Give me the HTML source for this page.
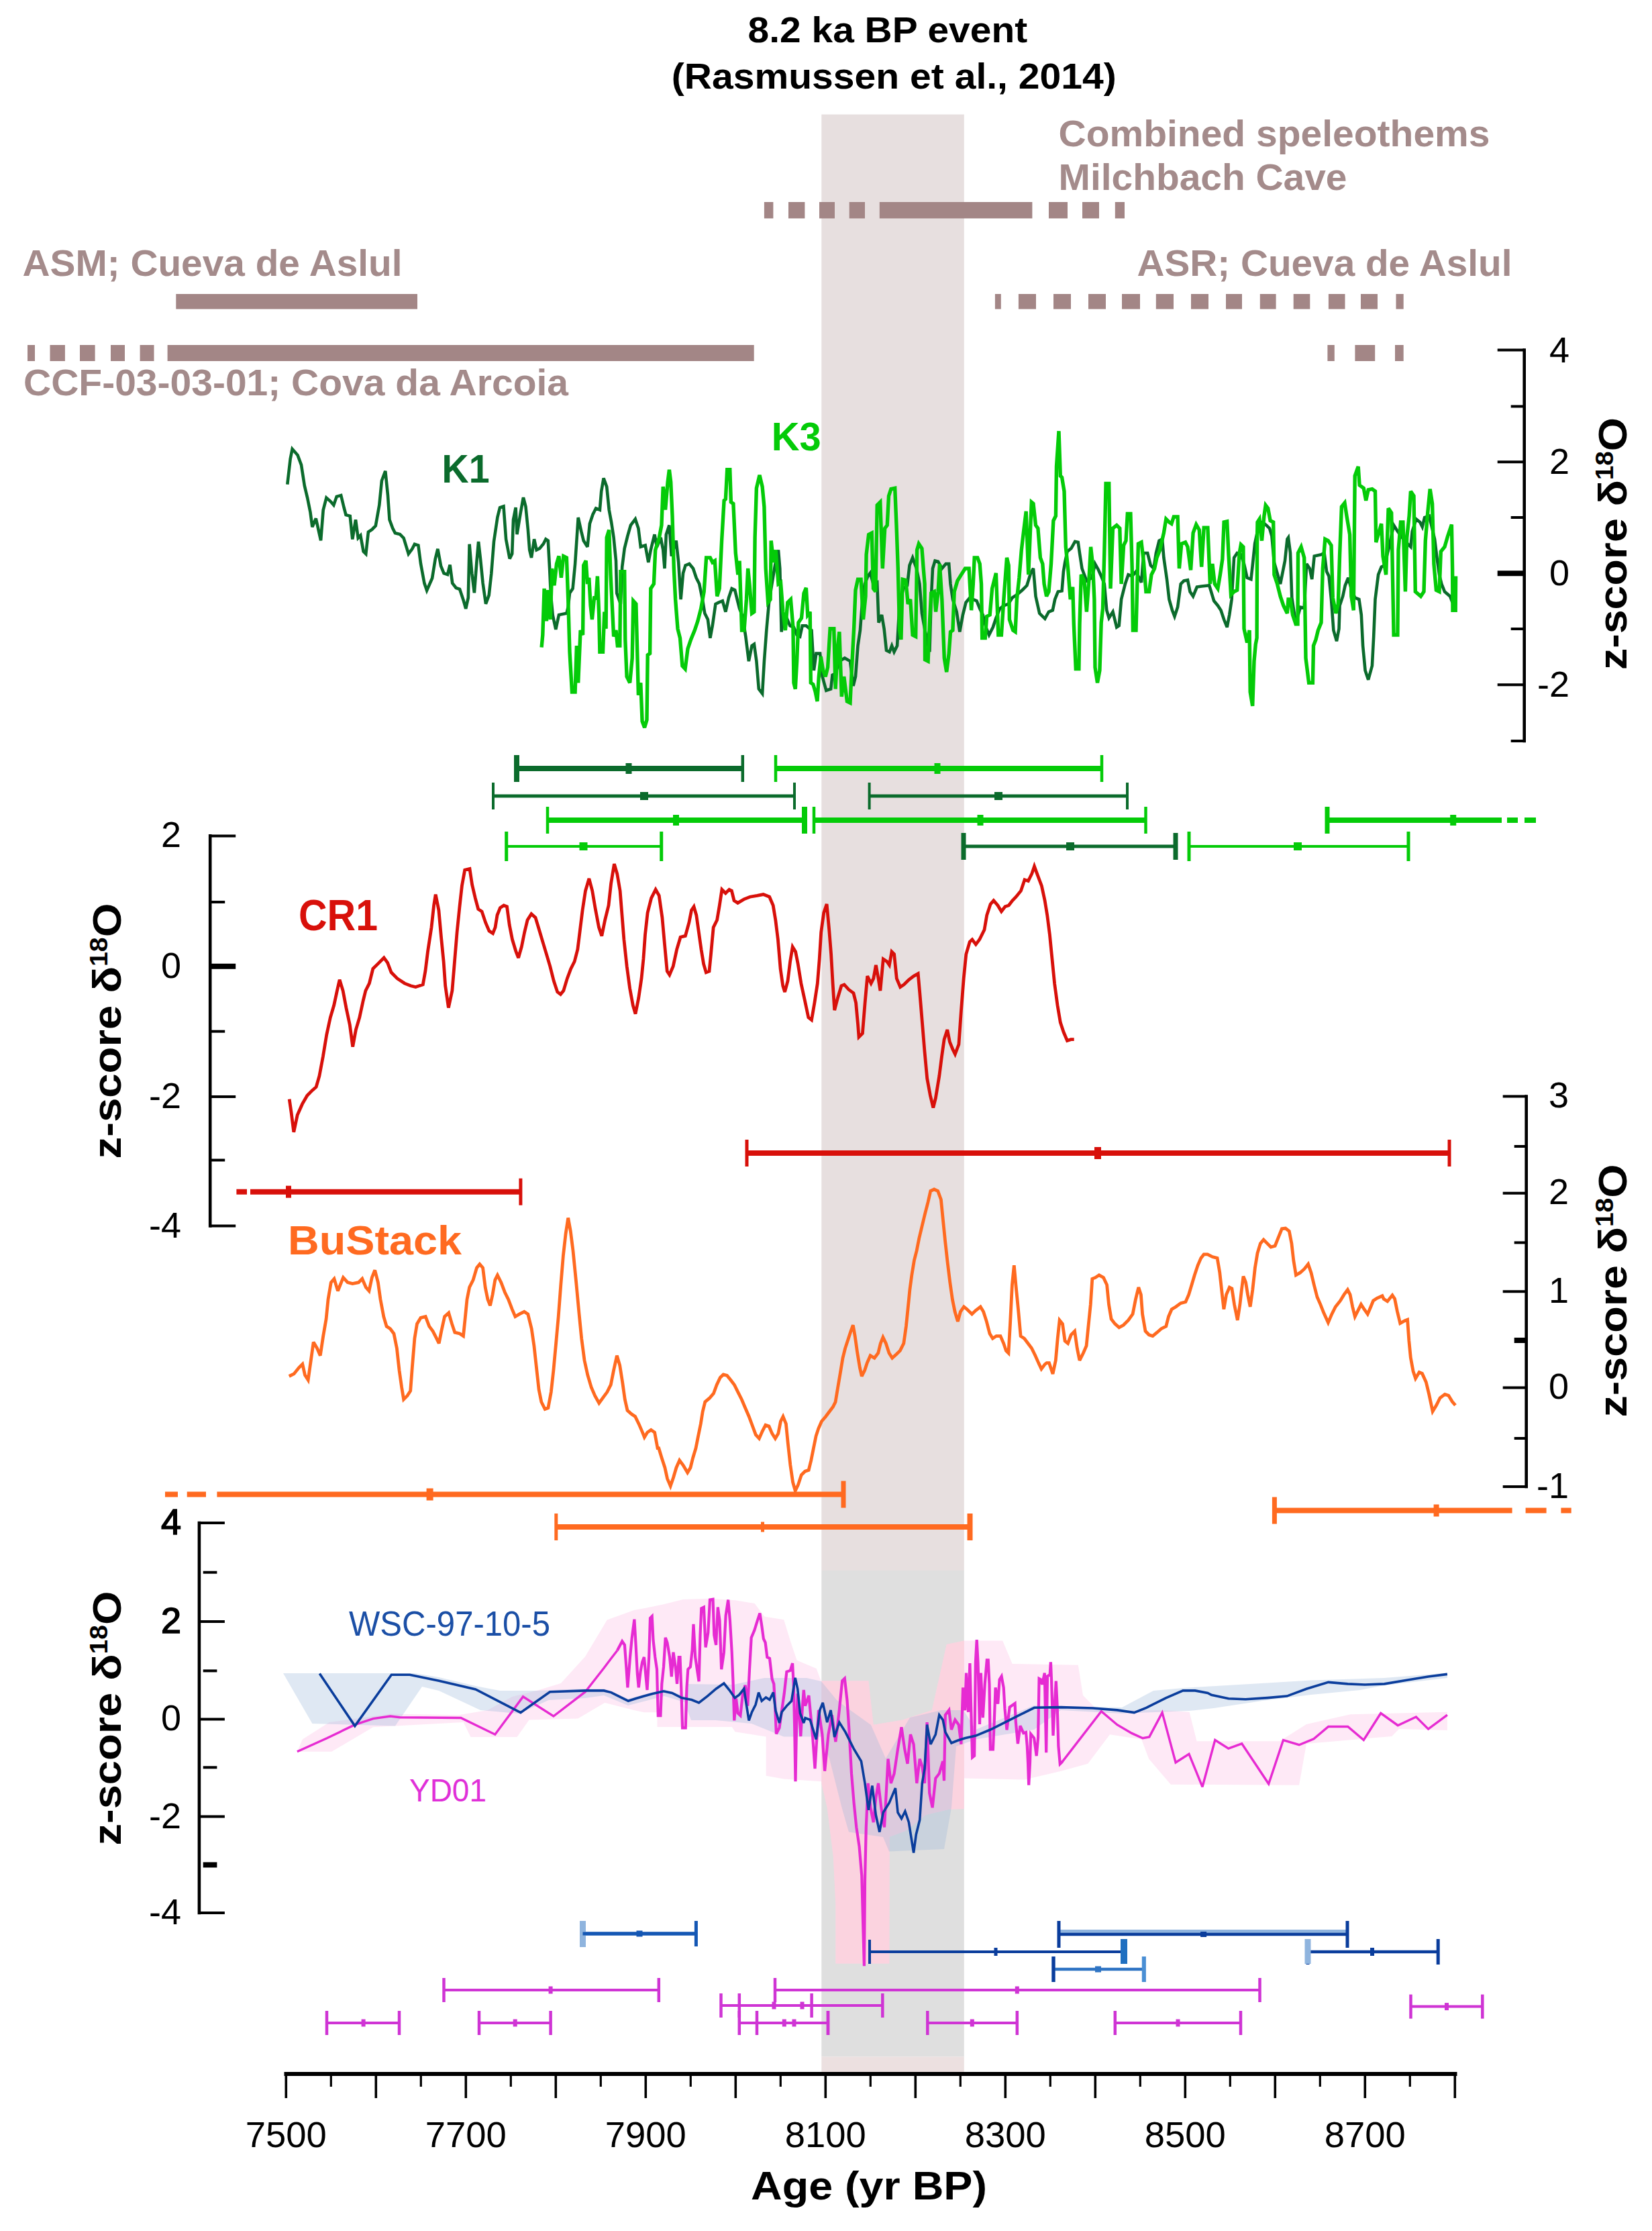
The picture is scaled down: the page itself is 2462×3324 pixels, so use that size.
<!DOCTYPE html>
<html><head><meta charset="utf-8"><title>8.2 ka BP event</title>
<style>html,body{margin:0;padding:0;background:#fff}svg{display:block}</style></head>
<body>
<svg width="2462" height="3324" viewBox="0 0 2462 3324">
<rect width="2462" height="3324" fill="#fff"/>
<rect x="1224.3" y="170.5" width="212.5" height="2169.5" fill="#e7dfdf"/>
<rect x="1224.3" y="2340" width="212.5" height="724.4" fill="#dfdfdf"/>
<rect x="1224.3" y="3064.4" width="212.5" height="23.6" fill="#ece0e0"/>
<text x="1114.6" y="63.0" font-size="54.0" fill="#000" font-family="Liberation Sans, Arial, sans-serif" font-weight="bold" text-anchor="start" textLength="416.5" lengthAdjust="spacingAndGlyphs" >8.2 ka BP event</text>
<text x="1000.8" y="131.7" font-size="54.0" fill="#000" font-family="Liberation Sans, Arial, sans-serif" font-weight="bold" text-anchor="start" textLength="663.0" lengthAdjust="spacingAndGlyphs" >(Rasmussen et al., 2014)</text>
<text x="1577.5" y="217.6" font-size="55.0" fill="#a48b8b" font-family="Liberation Sans, Arial, sans-serif" font-weight="bold" text-anchor="start" textLength="643.0" lengthAdjust="spacingAndGlyphs" >Combined speleothems</text>
<text x="1577.5" y="283.0" font-size="55.0" fill="#a48b8b" font-family="Liberation Sans, Arial, sans-serif" font-weight="bold" text-anchor="start" textLength="430.0" lengthAdjust="spacingAndGlyphs" >Milchbach Cave</text>
<text x="1694.5" y="411.3" font-size="55.0" fill="#a48b8b" font-family="Liberation Sans, Arial, sans-serif" font-weight="bold" text-anchor="start" textLength="559.0" lengthAdjust="spacingAndGlyphs" >ASR; Cueva de Aslul</text>
<text x="33.5" y="411.3" font-size="55.0" fill="#a48b8b" font-family="Liberation Sans, Arial, sans-serif" font-weight="bold" text-anchor="start" textLength="566.0" lengthAdjust="spacingAndGlyphs" >ASM; Cueva de Aslul</text>
<text x="35.0" y="588.7" font-size="55.0" fill="#a48b8b" font-family="Liberation Sans, Arial, sans-serif" font-weight="bold" text-anchor="start" textLength="812.0" lengthAdjust="spacingAndGlyphs" >CCF-03-03-01; Cova da Arcoia</text>
<rect x="1138.9" y="301.0" width="13.5" height="24.4" fill="#a38686"/>
<rect x="1175.0" y="301.0" width="24.4" height="24.4" fill="#a38686"/>
<rect x="1221.0" y="301.0" width="23.0" height="24.4" fill="#a38686"/>
<rect x="1265.7" y="301.0" width="23.3" height="24.4" fill="#a38686"/>
<rect x="1310.8" y="301.0" width="227.6" height="24.4" fill="#a38686"/>
<rect x="1563.0" y="301.0" width="28.0" height="24.4" fill="#a38686"/>
<rect x="1613.0" y="301.0" width="25.0" height="24.4" fill="#a38686"/>
<rect x="1661.8" y="301.0" width="14.2" height="24.4" fill="#a38686"/>
<rect x="262.3" y="438.0" width="359.7" height="22.5" fill="#a38686"/>
<rect x="1482.9" y="438.0" width="8.9" height="22.5" fill="#a38686"/>
<rect x="1517.9" y="438.0" width="26.1" height="22.5" fill="#a38686"/>
<rect x="1570.0" y="438.0" width="26.0" height="22.5" fill="#a38686"/>
<rect x="1622.0" y="438.0" width="26.0" height="22.5" fill="#a38686"/>
<rect x="1672.0" y="438.0" width="27.0" height="22.5" fill="#a38686"/>
<rect x="1722.8" y="438.0" width="26.2" height="22.5" fill="#a38686"/>
<rect x="1775.0" y="438.0" width="26.0" height="22.5" fill="#a38686"/>
<rect x="1827.0" y="438.0" width="24.0" height="22.5" fill="#a38686"/>
<rect x="1877.8" y="438.0" width="23.8" height="22.5" fill="#a38686"/>
<rect x="1927.7" y="438.0" width="24.6" height="22.5" fill="#a38686"/>
<rect x="1979.9" y="438.0" width="24.6" height="22.5" fill="#a38686"/>
<rect x="2028.0" y="438.0" width="25.0" height="22.5" fill="#a38686"/>
<rect x="2080.5" y="438.0" width="11.2" height="22.5" fill="#a38686"/>
<rect x="41.0" y="514.0" width="11.0" height="24.0" fill="#a38686"/>
<rect x="74.5" y="514.0" width="22.4" height="24.0" fill="#a38686"/>
<rect x="119.0" y="514.0" width="22.6" height="24.0" fill="#a38686"/>
<rect x="165.0" y="514.0" width="21.0" height="24.0" fill="#a38686"/>
<rect x="208.6" y="514.0" width="20.9" height="24.0" fill="#a38686"/>
<rect x="249.6" y="514.0" width="874.1" height="24.0" fill="#a38686"/>
<rect x="1978.4" y="514.0" width="10.4" height="24.0" fill="#a38686"/>
<rect x="2019.4" y="514.0" width="29.8" height="24.0" fill="#a38686"/>
<rect x="2079.0" y="514.0" width="12.7" height="24.0" fill="#a38686"/>
<polygon points="450.8,2591.5 490.8,2566.1 581.6,2553.4 683.3,2555.2 726.9,2547.9 763.2,2527.9 799.5,2518.9 835.8,2508.0 872.2,2468.0 904.8,2413.5 944.8,2399.0 960.0,2396.3 989.1,2390.3 1018.1,2383.0 1056.9,2381.8 1095.6,2384.2 1124.6,2389.1 1139.2,2408.4 1168.2,2413.3 1177.9,2444.7 1187.6,2473.8 1216.7,2485.9 1223.9,2505.3 1224.3,2504.3 1294.4,2504.3 1301.7,2569.7 1345.3,2562.4 1356.2,2558.8 1388.9,2547.9 1410.7,2449.9 1436.8,2444.4 1494.2,2444.4 1508.7,2478.9 1606.8,2480.7 1614.0,2526.1 1635.8,2547.9 1730.3,2547.9 1772.6,2550.7 1783.5,2594.3 1907.0,2594.3 1947.0,2568.9 2012.4,2554.3 2156.9,2550.7 2156.9,2577.9 2085.0,2576.1 2074.1,2587.0 1947.0,2597.9 1936.1,2659.7 1744.8,2658.7 1712.1,2620.6 1701.2,2591.5 1654.0,2584.2 1621.3,2627.8 1581.4,2638.7 1526.9,2651.4 1436.8,2649.6 1436.8,2695.0 1413.9,2696.1 1380.1,2704.1 1349.6,2728.1 1325.7,2736.8 1325.3,2925.6 1245.4,2925.6 1245.4,2838.5 1241.8,2765.8 1232.7,2693.2 1224.3,2656.9 1223.9,2654.2 1168.2,2650.6 1141.6,2645.7 1141.6,2587.6 1095.6,2580.3 1090.8,2573.1 979.4,2573.1 979.4,2551.3 960.0,2551.3 944.8,2547.9 901.2,2537.0 861.3,2560.6 788.6,2562.4 770.5,2587.9 701.5,2587.9 690.6,2566.1 588.9,2571.5 556.2,2573.3 494.4,2609.7 442.9,2609.7" fill="#fdd7ee" fill-opacity="0.55"/>
<clipPath id="bandclip"><rect x="1224.3" y="2340" width="212.5" height="730"/></clipPath>
<polygon points="450.8,2591.5 490.8,2566.1 581.6,2553.4 683.3,2555.2 726.9,2547.9 763.2,2527.9 799.5,2518.9 835.8,2508.0 872.2,2468.0 904.8,2413.5 944.8,2399.0 960.0,2396.3 989.1,2390.3 1018.1,2383.0 1056.9,2381.8 1095.6,2384.2 1124.6,2389.1 1139.2,2408.4 1168.2,2413.3 1177.9,2444.7 1187.6,2473.8 1216.7,2485.9 1223.9,2505.3 1224.3,2504.3 1294.4,2504.3 1301.7,2569.7 1345.3,2562.4 1356.2,2558.8 1388.9,2547.9 1410.7,2449.9 1436.8,2444.4 1494.2,2444.4 1508.7,2478.9 1606.8,2480.7 1614.0,2526.1 1635.8,2547.9 1730.3,2547.9 1772.6,2550.7 1783.5,2594.3 1907.0,2594.3 1947.0,2568.9 2012.4,2554.3 2156.9,2550.7 2156.9,2577.9 2085.0,2576.1 2074.1,2587.0 1947.0,2597.9 1936.1,2659.7 1744.8,2658.7 1712.1,2620.6 1701.2,2591.5 1654.0,2584.2 1621.3,2627.8 1581.4,2638.7 1526.9,2651.4 1436.8,2649.6 1436.8,2695.0 1413.9,2696.1 1380.1,2704.1 1349.6,2728.1 1325.7,2736.8 1325.3,2925.6 1245.4,2925.6 1245.4,2838.5 1241.8,2765.8 1232.7,2693.2 1224.3,2656.9 1223.9,2654.2 1168.2,2650.6 1141.6,2645.7 1141.6,2587.6 1095.6,2580.3 1090.8,2573.1 979.4,2573.1 979.4,2551.3 960.0,2551.3 944.8,2547.9 901.2,2537.0 861.3,2560.6 788.6,2562.4 770.5,2587.9 701.5,2587.9 690.6,2566.1 588.9,2571.5 556.2,2573.3 494.4,2609.7 442.9,2609.7" fill="#ffd0dc" fill-opacity="0.75" clip-path="url(#bandclip)"/>
<polygon points="422.0,2493.0 618.0,2493.0 654.0,2499.0 709.0,2512.0 745.0,2519.0 800.0,2519.0 872.0,2516.0 900.0,2516.0 936.0,2531.0 990.0,2517.0 1020.0,2527.0 1023.0,2509.0 1093.0,2510.0 1139.0,2500.0 1202.0,2500.0 1224.0,2505.0 1247.0,2533.0 1263.0,2545.0 1298.0,2570.0 1320.0,2620.0 1356.0,2559.0 1403.0,2548.0 1436.0,2548.0 1454.0,2577.0 1541.0,2541.0 1672.0,2544.0 1719.0,2519.0 1763.0,2515.0 1863.0,2509.0 1954.0,2503.5 2063.0,2500.0 2157.0,2492.6 2157.0,2500.0 2063.0,2511.0 2027.0,2518.0 1954.0,2525.0 1881.6,2534.0 1809.0,2545.0 1772.6,2549.0 1708.5,2551.5 1672.0,2553.0 1581.0,2548.0 1541.0,2577.0 1454.0,2591.5 1425.0,2602.0 1418.0,2693.0 1407.0,2755.0 1325.0,2758.6 1316.0,2737.0 1265.0,2729.5 1254.5,2693.0 1236.0,2620.0 1224.0,2587.6 1168.0,2587.6 1120.0,2568.0 1066.5,2563.0 1030.0,2563.0 1020.0,2536.0 990.0,2527.0 936.0,2541.0 900.0,2526.0 872.0,2530.0 817.7,2533.0 774.0,2553.0 716.0,2548.0 654.0,2519.0 629.0,2513.0 589.0,2571.5 465.4,2568.0 422.0,2493.0" fill="#9db9dc" fill-opacity="0.33"/>
<polyline points="428.3,721.7 432.7,683.5 435.6,669.0 443.6,678.1 449.0,692.6 453.8,723.5 458.1,741.6 462.5,763.4 465.4,785.2 470.8,772.5 478.1,805.2 481.7,759.8 486.4,741.6 492.6,747.1 497.3,752.5 501.7,739.8 508.2,738.0 512.6,756.2 515.5,767.1 521.7,768.9 525.3,803.4 530.0,774.3 533.7,801.6 537.3,797.9 541.6,821.6 545.3,825.2 548.9,792.5 554.4,788.9 559.8,783.4 565.3,752.5 568.9,716.2 574.3,701.7 578.0,738.0 580.5,774.3 585.2,787.0 588.9,794.3 596.1,796.1 601.6,801.6 608.8,825.2 614.3,817.9 617.9,810.7 623.4,812.5 627.0,839.7 632.4,868.8 636.1,879.7 644.1,861.5 648.8,832.4 652.4,817.9 657.1,843.3 661.5,854.2 667.0,856.1 670.6,841.5 674.2,868.8 679.7,876.0 685.1,877.8 690.6,894.2 694.2,906.9 697.8,890.6 699.6,810.7 703.3,854.2 706.9,883.3 710.5,836.1 713.1,807.0 716.0,832.4 719.6,868.8 724.0,899.6 728.7,886.9 732.3,854.2 736.0,807.0 741.4,770.7 745.0,756.2 750.5,754.4 754.1,803.4 759.6,832.4 763.2,825.2 765.0,774.3 768.6,756.2 770.5,796.1 775.9,763.4 779.5,743.5 780.0,741.2 783.5,755.0 786.9,789.5 789.2,819.4 792.0,830.9 796.1,803.3 799.6,819.4 804.2,817.1 809.9,810.2 813.4,803.3 816.8,805.6 819.1,847.0 820.9,886.1 823.7,916.1 828.3,937.9 832.9,916.1 844.4,913.8 846.7,904.6 849.0,883.8 853.6,876.9 857.1,840.1 861.7,771.1 866.3,791.8 869.7,805.6 875.5,814.8 878.9,780.3 883.5,766.5 888.1,757.3 893.9,759.6 896.2,732.0 899.6,712.5 904.2,725.1 907.7,759.6 911.1,778.0 914.6,801.0 918.0,835.5 919.2,883.8 924.9,899.9 927.2,844.7 930.7,817.1 935.3,798.7 939.9,782.6 946.8,773.4 951.4,787.2 954.8,814.8 961.7,812.5 966.3,837.8 969.8,819.4 975.5,796.4 979.0,814.8 984.7,801.0 988.2,819.4 990.5,847.0 992.8,796.4 997.4,782.6 1000.8,828.6 1007.7,805.6 1011.2,837.8 1014.6,893.0 1018.1,853.9 1021.5,842.4 1027.3,840.1 1033.0,847.0 1037.6,860.8 1042.2,870.0 1046.9,893.0 1050.3,913.8 1054.9,923.0 1058.4,950.6 1061.8,932.2 1066.4,899.9 1071.0,897.6 1076.8,895.3 1081.4,911.5 1086.0,890.7 1090.6,876.9 1095.2,879.2 1098.6,893.0 1102.1,906.9 1106.7,918.4 1111.3,948.3 1115.9,985.1 1120.5,962.1 1123.9,959.8 1127.4,985.1 1130.8,1026.5 1136.1,1033.4 1138.9,985.1 1142.3,939.1 1145.8,899.9 1150.4,870.0 1155.0,842.4 1160.0,819.4 1162.3,847.0 1164.6,941.4 1168.1,916.1 1171.5,918.4 1177.3,932.2 1183.0,934.5 1187.6,946.0 1192.2,948.3 1195.7,932.2 1201.4,932.2 1209.5,939.1 1212.9,998.9 1216.4,973.6 1222.1,973.6 1225.6,1008.1 1231.3,1028.8 1238.2,1026.5 1240.5,1005.8 1245.1,1003.5 1250.9,985.1 1258.9,980.5 1267.0,985.1 1271.6,1021.9 1275.0,1008.1 1278.5,962.1 1281.9,939.1 1285.4,893.0 1288.8,870.0 1293.4,858.5 1296.9,853.9 1301.5,870.0 1307.2,867.7 1309.5,927.6 1314.1,916.1 1317.6,936.8 1321.0,969.0 1325.6,971.3 1329.1,962.1 1332.5,971.3 1337.1,962.1 1340.6,899.9 1346.3,876.9 1352.1,872.3 1355.5,842.4 1360.1,830.9 1365.9,847.0 1370.5,870.0 1373.9,913.8 1378.5,939.1 1385.4,971.3 1387.7,893.0 1390.0,847.0 1393.5,835.5 1398.1,836.7 1403.8,847.0 1409.6,840.1 1414.2,840.1 1416.5,870.0 1419.9,893.0 1425.7,911.5 1430.3,941.4 1434.9,916.1 1439.5,897.6 1445.3,890.7 1449.9,893.0 1455.6,895.3 1460.2,906.9 1464.8,916.1 1469.4,934.5 1474.0,946.0 1479.8,934.5 1484.4,920.7 1490.1,906.9 1495.9,902.2 1502.8,899.9 1508.5,890.7 1515.4,886.1 1523.5,879.2 1530.4,872.3 1536.1,853.9 1540.0,847.0 1543.5,888.4 1549.2,913.8 1557.3,921.8 1563.0,911.5 1568.8,909.2 1572.2,893.0 1576.8,881.5 1582.6,880.4 1584.9,851.6 1587.2,837.8 1590.6,821.7 1596.4,817.1 1602.1,806.8 1606.7,807.9 1609.0,824.0 1612.5,847.0 1615.9,856.2 1619.4,865.4 1627.4,860.8 1632.0,840.1 1636.6,848.2 1641.2,858.5 1645.8,870.0 1649.3,909.2 1652.7,920.7 1658.5,911.5 1664.2,934.5 1667.7,932.2 1671.1,893.0 1676.9,870.0 1681.5,856.2 1687.2,858.5 1693.0,851.6 1701.0,867.7 1704.5,824.0 1710.2,824.0 1714.8,842.4 1719.4,847.0 1722.9,824.0 1727.5,805.6 1732.1,803.3 1734.4,830.9 1739.0,863.1 1742.4,893.0 1747.0,909.2 1750.5,918.4 1755.1,904.6 1759.7,870.0 1764.3,865.4 1770.0,864.3 1773.5,881.5 1778.1,888.4 1783.8,874.6 1790.7,873.5 1802.2,872.3 1805.7,883.8 1809.2,895.3 1814.9,902.2 1819.5,909.2 1824.1,923.0 1828.7,934.5 1832.2,916.1 1835.6,893.0 1839.1,830.9 1843.7,824.0 1849.4,826.3 1854.0,840.1 1858.6,860.8 1864.4,863.1 1866.7,842.4 1870.1,810.2 1875.9,782.6 1881.6,778.0 1887.4,782.6 1892.0,787.2 1895.4,798.7 1898.9,837.8 1908.1,870.0 1915.0,835.5 1918.4,803.3 1920.0,801.0 1923.0,824.0 1925.3,890.7 1931.1,928.7 1938.0,904.6 1943.7,905.7 1947.2,840.1 1951.8,847.0 1955.2,863.1 1958.7,828.6 1969.0,826.3 1973.6,824.0 1977.1,851.6 1980.5,858.5 1984.0,893.0 1987.4,939.1 1992.0,955.2 1995.5,936.8 1996.6,902.2 2001.2,888.4 2004.7,872.3 2009.3,860.8 2015.0,881.5 2019.6,890.7 2025.4,893.0 2028.8,916.1 2031.1,962.1 2034.6,998.9 2039.2,1012.7 2044.9,992.0 2047.2,948.3 2049.5,893.0 2054.1,856.2 2058.7,844.7 2063.3,842.4 2070.2,814.8 2077.1,782.6 2082.9,791.8 2093.2,805.6 2102.4,814.8 2104.7,791.8 2110.5,773.4 2116.2,778.0 2119.7,784.9 2123.1,771.1 2130.0,768.8 2138.1,803.3 2141.5,830.9 2145.0,856.2 2148.4,870.0 2153.0,881.5 2161.1,888.4 2164.6,897.6" fill="none" stroke="#0b6b2c" stroke-width="4.6" stroke-linejoin="miter" stroke-miterlimit="3"/>
<polyline points="807.1,964.4 808.8,946.0 811.1,876.9 814.5,925.3 816.8,879.2 820.3,923.0 822.6,847.0 826.0,872.3 829.5,840.1 832.9,828.6 836.4,860.8 839.8,828.6 844.4,830.9 846.7,893.0 849.0,971.3 852.5,1031.1 857.1,1031.1 859.4,962.1 861.7,1017.3 865.1,939.1 868.6,946.0 869.7,842.4 873.2,835.5 875.5,870.0 877.8,860.8 880.1,902.2 882.4,923.0 885.8,888.4 888.1,893.0 890.4,858.5 892.7,916.1 893.9,971.3 898.5,971.3 900.8,911.5 903.1,936.8 904.2,801.0 907.7,789.5 910.0,856.2 912.3,902.2 914.6,948.3 918.0,939.1 920.3,962.1 923.8,962.1 924.9,851.6 930.7,851.6 931.8,952.9 934.1,1008.1 938.7,1017.3 942.2,980.5 943.8,895.3 947.9,899.9 951.4,1035.7 954.8,1017.3 957.1,1074.8 960.6,1084.0 964.0,1072.5 965.2,975.9 968.6,973.6 969.8,876.9 974.4,870.0 976.7,819.4 982.4,801.0 985.9,782.6 988.2,725.1 991.6,759.6 995.1,718.2 997.4,699.8 999.7,718.2 1002.0,768.8 1004.3,847.0 1006.6,893.0 1010.0,936.8 1013.5,950.6 1016.9,992.0 1021.1,996.6 1025.0,966.7 1029.6,952.9 1035.3,939.1 1039.9,925.3 1044.6,906.9 1049.2,881.5 1052.6,830.9 1058.4,830.9 1061.8,837.8 1065.3,835.5 1068.7,888.4 1072.2,876.9 1075.6,805.6 1079.1,745.8 1081.4,743.5 1083.7,699.8 1087.8,699.8 1089.4,748.1 1092.9,750.4 1096.3,824.0 1099.8,856.2 1102.1,835.5 1105.5,939.1 1109.0,939.1 1112.4,893.0 1114.7,847.0 1117.0,870.0 1120.5,913.8 1123.9,911.5 1125.1,801.0 1127.4,727.4 1132.0,707.9 1136.1,725.1 1138.9,755.0 1141.2,847.0 1144.6,897.6 1148.1,893.0 1149.2,805.6 1152.7,837.8 1156.1,819.4 1160.0,870.0 1163.5,867.7 1166.9,911.5 1170.4,939.1 1173.8,897.6 1178.4,893.0 1181.9,934.5 1183.0,1017.3 1185.3,1026.5 1187.6,985.1 1189.9,927.6 1194.5,920.7 1198.0,883.8 1201.4,875.8 1203.7,916.1 1207.2,911.5 1208.3,1017.3 1211.8,1019.6 1215.2,1031.1 1218.0,1044.9 1220.3,1008.1 1223.3,978.2 1226.7,998.9 1230.2,1008.1 1233.6,994.3 1237.1,936.8 1242.8,936.8 1245.1,1026.5 1248.6,962.1 1250.9,941.4 1254.3,1038.0 1257.8,1008.1 1262.4,1044.9 1267.0,1047.2 1269.3,998.9 1272.7,934.5 1275.0,879.2 1278.5,863.1 1283.1,863.1 1286.5,923.0 1290.0,888.4 1291.1,826.3 1294.6,796.4 1299.2,794.1 1301.5,876.9 1304.9,881.5 1307.2,752.7 1311.8,748.1 1315.3,847.0 1318.7,787.2 1322.2,782.6 1324.5,738.9 1327.9,728.6 1333.7,727.4 1336.0,782.6 1338.3,847.0 1340.6,939.1 1342.9,952.9 1345.2,863.1 1349.8,864.3 1353.2,899.9 1356.7,893.0 1360.1,946.0 1364.7,948.3 1365.9,872.3 1366.6,819.4 1369.3,810.2 1373.9,817.1 1376.2,847.0 1378.1,870.0 1378.5,982.8 1383.1,985.1 1385.4,927.6 1387.7,883.8 1392.3,881.5 1394.6,911.5 1398.1,881.5 1400.4,840.1 1403.8,893.0 1407.3,980.5 1410.7,1001.2 1414.2,973.6 1416.5,941.4 1419.9,939.1 1422.2,881.5 1426.9,865.4 1432.6,856.2 1438.4,847.0 1444.1,847.0 1447.6,909.2 1450.3,870.0 1452.2,830.9 1456.8,830.9 1460.2,840.1 1462.5,870.0 1463.7,950.6 1468.3,950.6 1470.6,918.4 1475.2,916.1 1478.6,876.9 1484.4,853.9 1487.8,946.0 1492.4,946.0 1495.9,893.0 1500.5,830.9 1503.2,842.4 1504.4,923.0 1509.7,939.1 1513.1,941.4 1515.4,893.0 1518.9,860.8 1522.3,819.4 1525.8,789.5 1529.2,761.9 1532.7,856.2 1537.3,748.1 1540.0,750.4 1543.5,782.6 1546.9,787.2 1550.4,830.9 1553.8,840.1 1556.1,870.0 1559.6,888.4 1563.0,881.5 1566.5,840.1 1569.9,775.7 1573.4,768.8 1574.5,695.2 1578.0,642.3 1580.3,709.0 1582.6,711.3 1586.0,732.0 1588.3,814.8 1591.8,849.3 1595.2,893.0 1598.7,874.6 1600.3,929.9 1603.3,996.6 1607.9,996.6 1609.0,929.9 1611.3,856.2 1615.9,865.4 1619.4,911.5 1622.8,865.4 1625.6,814.8 1628.6,842.4 1630.9,893.0 1632.0,994.3 1635.5,1017.3 1638.9,998.9 1641.2,927.6 1643.5,906.9 1645.8,824.0 1648.1,720.5 1652.7,720.5 1655.0,876.9 1658.5,787.2 1664.2,782.6 1668.8,787.2 1671.1,870.0 1674.6,812.5 1678.0,805.6 1680.3,765.4 1684.9,765.4 1687.2,847.0 1688.4,939.1 1693.0,939.1 1696.4,810.2 1701.0,807.9 1704.5,837.8 1707.9,881.5 1712.5,881.5 1716.0,856.2 1720.6,847.0 1724.0,830.9 1728.6,819.4 1734.4,794.1 1737.8,773.4 1742.4,778.0 1745.9,780.3 1749.3,770.0 1755.1,770.0 1757.4,847.0 1760.8,810.2 1766.6,807.9 1770.0,814.8 1774.6,849.3 1778.1,794.1 1782.7,781.5 1787.3,789.5 1790.7,844.7 1794.2,786.1 1799.9,786.1 1803.4,870.0 1806.9,840.1 1810.3,870.0 1814.9,876.9 1818.4,856.2 1821.8,833.2 1824.1,778.0 1828.7,776.9 1831.0,826.3 1834.5,886.1 1839.1,881.5 1843.7,879.2 1847.1,824.0 1849.4,811.4 1852.9,814.8 1854.0,936.8 1858.6,957.5 1862.1,939.1 1863.2,1031.1 1866.7,1051.8 1869.0,985.1 1871.3,959.8 1873.1,950.6 1873.6,801.0 1874.0,778.0 1877.0,773.4 1880.5,805.6 1883.9,768.8 1886.2,752.7 1889.7,757.3 1893.1,775.7 1897.7,778.0 1898.9,856.2 1903.5,870.0 1908.1,888.4 1912.7,902.2 1918.4,913.8 1920.0,893.0 1923.0,893.0 1926.5,916.1 1931.1,929.9 1934.0,929.9 1934.5,824.0 1939.1,814.8 1943.7,830.9 1946.0,980.5 1950.6,1017.3 1956.4,1017.3 1957.5,962.1 1961.0,952.9 1964.4,939.1 1969.0,927.6 1971.3,847.0 1974.8,803.3 1979.4,805.6 1984.0,812.5 1986.3,890.7 1990.9,913.8 1994.3,899.9 1996.6,826.3 1999.4,755.0 2004.0,749.3 2007.0,768.8 2011.6,796.4 2013.9,888.4 2017.3,909.2 2019.2,709.0 2024.2,695.2 2026.1,722.8 2032.3,727.4 2035.7,745.8 2039.2,729.7 2044.9,728.6 2049.5,732.0 2050.7,807.9 2058.7,780.3 2061.0,828.6 2065.6,856.2 2069.1,757.3 2073.7,764.2 2077.1,946.0 2082.9,946.0 2084.0,819.4 2087.5,778.0 2090.9,778.0 2094.4,881.5 2096.7,801.0 2100.1,768.8 2102.4,732.0 2107.0,738.9 2109.3,881.5 2117.4,888.4 2122.0,881.5 2124.3,805.6 2127.7,764.2 2131.2,728.6 2134.6,750.4 2136.9,840.1 2140.4,879.2 2145.0,881.5 2147.3,821.7 2153.0,814.8 2157.6,798.7 2163.4,781.5 2164.6,847.0 2165.0,909.2 2169.2,909.2 2169.6,858.5" fill="none" stroke="#04cb08" stroke-width="5.4" stroke-linejoin="miter" stroke-miterlimit="3"/>
<polyline points="431.2,1637.7 434.1,1657.6 437.8,1686.7 443.2,1661.3 450.5,1644.9 457.8,1632.2 465.0,1624.9 471.2,1619.5 475.9,1603.2 481.4,1574.1 486.8,1541.4 492.3,1516.0 497.7,1497.8 502.4,1476.0 506.1,1459.7 511.1,1476.0 515.9,1501.5 521.3,1526.9 525.7,1559.6 530.4,1534.1 535.8,1516.0 541.3,1490.6 544.9,1476.0 550.4,1465.1 555.8,1443.3 563.1,1436.1 572.2,1427.0 577.6,1434.3 583.1,1448.8 592.1,1457.9 603.0,1465.1 612.1,1468.8 619.4,1470.6 630.3,1467.0 633.9,1447.0 637.5,1417.9 643.0,1381.6 646.6,1348.9 649.2,1332.6 653.9,1356.2 657.5,1396.1 661.1,1432.4 663.7,1468.8 668.4,1501.5 673.9,1476.0 677.5,1432.4 681.1,1388.9 684.8,1352.5 688.4,1319.9 692.7,1296.2 700.0,1294.4 703.6,1318.1 708.3,1338.1 712.7,1354.4 718.1,1358.0 723.6,1374.4 729.0,1387.1 734.5,1390.7 738.1,1381.6 741.0,1363.5 745.4,1352.6 750.8,1349.0 755.5,1350.8 759.2,1378.0 763.5,1399.8 769.0,1418.0 772.6,1427.0 777.3,1410.7 781.7,1388.9 786.1,1370.8 791.9,1361.7 798.0,1367.1 803.5,1385.3 808.9,1403.4 814.4,1421.6 819.8,1439.8 825.3,1461.6 830.7,1477.9 835.4,1481.5 839.8,1476.1 845.3,1457.9 850.7,1443.4 856.2,1432.5 860.9,1414.3 864.5,1385.3 868.1,1356.2 872.5,1327.2 877.9,1309.0 882.7,1327.2 887.0,1352.6 892.5,1381.6 896.8,1394.4 901.6,1370.8 907.0,1349.0 910.6,1316.3 915.4,1287.2 919.7,1301.7 924.1,1327.2 927.0,1363.5 929.9,1399.8 934.2,1439.8 938.6,1472.4 943.3,1497.9 947.0,1510.6 951.7,1487.0 956.0,1457.9 958.9,1428.9 961.5,1392.5 965.1,1359.9 970.6,1338.1 977.1,1325.4 982.2,1334.4 986.9,1367.1 990.5,1407.1 994.2,1447.0 997.8,1452.5 1003.2,1439.8 1008.7,1414.3 1014.1,1396.2 1021.4,1394.4 1026.9,1374.4 1030.5,1356.2 1034.1,1350.8 1037.8,1363.5 1041.4,1388.9 1045.0,1414.3 1048.6,1436.1 1052.3,1448.8 1057.0,1447.0 1059.5,1421.6 1063.2,1381.6 1068.6,1370.8 1072.3,1349.0 1075.9,1325.4 1081.3,1330.8 1086.8,1325.4 1090.4,1327.2 1094.0,1341.7 1099.5,1345.3 1108.6,1339.9 1117.7,1336.2 1128.6,1334.4 1137.6,1332.6 1146.7,1336.2 1152.2,1349.0 1155.8,1370.8 1159.4,1399.8 1163.1,1443.4 1166.7,1468.8 1169.6,1477.9 1174.0,1461.6 1177.6,1432.5 1181.2,1410.7 1185.6,1418.0 1189.2,1436.1 1193.9,1465.2 1199.4,1490.6 1204.8,1516.0 1209.5,1519.7 1213.9,1494.2 1218.3,1465.2 1221.2,1428.9 1223.7,1388.9 1227.7,1359.9 1232.1,1347.1 1235.7,1385.3 1238.6,1421.6 1241.1,1465.2 1243.7,1505.1 1248.4,1487.0 1253.9,1468.8 1258.2,1467.0 1264.8,1474.3 1272.0,1479.7 1275.6,1494.2 1278.6,1526.9 1280.0,1545.1 1281.8,1543.3 1285.4,1539.6 1289.1,1494.2 1292.7,1454.3 1298.1,1465.2 1301.8,1457.9 1305.4,1437.9 1309.0,1457.9 1311.9,1476.1 1316.3,1428.9 1321.7,1432.5 1325.4,1437.9 1329.0,1418.0 1332.6,1421.6 1336.3,1457.9 1341.7,1470.6 1347.2,1467.0 1354.4,1459.7 1361.7,1454.3 1368.2,1450.7 1370.8,1479.7 1374.4,1523.3 1378.0,1566.9 1381.7,1606.8 1386.4,1632.3 1390.8,1650.4 1394.4,1635.9 1399.8,1603.2 1403.5,1574.1 1407.1,1548.7 1411.8,1534.2 1415.4,1552.4 1419.8,1563.2 1423.4,1570.5 1428.9,1556.0 1432.5,1505.1 1436.2,1457.9 1439.8,1421.6 1445.2,1403.4 1448.9,1399.8 1454.3,1407.1 1459.8,1399.8 1467.0,1385.3 1470.7,1363.5 1476.1,1347.1 1480.8,1341.7 1487.0,1349.0 1492.4,1358.0 1497.9,1350.8 1503.3,1349.0 1508.8,1341.7 1514.2,1336.2 1521.5,1327.2 1527.0,1310.8 1532.4,1312.6 1537.8,1301.7 1541.5,1290.8 1546.9,1305.4 1552.4,1319.9 1557.1,1341.7 1560.7,1363.5 1564.4,1392.5 1568.0,1428.9 1571.6,1465.2 1576.0,1497.9 1580.3,1523.3 1585.1,1537.8 1590.5,1550.5 1596.0,1548.7 1600.7,1548.7" fill="none" stroke="#d8100a" stroke-width="4.8" stroke-linejoin="miter" stroke-miterlimit="3"/>
<polyline points="430.8,2050.5 438.1,2046.9 445.4,2037.8 450.8,2032.4 454.5,2048.7 459.2,2056.0 462.8,2030.6 467.2,1999.7 472.6,2008.8 477.3,2019.7 481.7,1990.6 486.1,1965.2 489.0,1936.1 493.3,1910.7 498.0,1905.3 503.5,1923.4 507.1,1914.3 511.5,1903.4 518.0,1910.7 525.3,1912.5 534.4,1910.7 539.8,1905.3 545.3,1918.0 550.0,1923.4 554.3,1903.4 558.7,1892.5 563.4,1910.7 567.0,1936.1 571.8,1961.6 576.1,1976.1 581.6,1979.7 587.0,1987.0 591.4,2008.8 595.0,2041.5 598.6,2066.9 601.6,2085.0 607.0,2079.6 611.7,2072.3 614.3,2037.8 617.9,1994.2 621.5,1972.4 627.0,1963.4 634.2,1961.6 639.7,1976.1 645.1,1983.3 650.6,1994.2 654.2,2001.5 657.8,1983.3 662.6,1961.6 668.7,1956.1 673.5,1972.4 677.8,1985.2 685.1,1987.0 690.5,1990.6 693.1,1965.2 696.0,1936.1 699.6,1918.0 705.1,1907.1 710.5,1888.9 714.9,1883.5 719.6,1888.9 723.2,1918.0 726.9,1936.1 730.5,1945.2 734.1,1928.9 737.8,1907.1 741.4,1899.8 746.8,1910.7 752.3,1925.2 757.7,1936.1 763.2,1950.7 767.9,1961.6 774.1,1957.9 781.3,1954.3 786.8,1957.9 792.2,1979.7 795.9,2005.1 799.5,2037.8 803.1,2070.5 806.8,2088.7 812.2,2099.6 816.9,2097.8 821.3,2074.1 824.9,2041.5 828.6,2001.5 832.2,1961.6 835.8,1914.3 839.4,1870.8 843.1,1838.1 846.7,1814.5 850.3,1834.4 854.0,1863.5 858.7,1910.7 863.1,1957.9 866.7,1994.2 871.0,2026.9 875.8,2048.7 881.2,2066.9 886.7,2079.6 892.8,2090.5 899.4,2081.4 904.8,2074.1 910.3,2063.2 914.6,2041.5 919.4,2019.7 923.7,2034.2 927.7,2059.6 931.3,2085.0 935.0,2101.4 941.1,2106.8 946.6,2110.5 952.0,2121.4 957.5,2134.1 960.4,2141.3 964.8,2134.1 970.2,2130.4 975.6,2134.1 980.0,2157.7 981.8,2157.7 986.2,2172.2 990.9,2186.7 994.5,2203.1 999.2,2214.0 1003.6,2201.3 1007.9,2186.7 1012.7,2175.8 1018.1,2183.1 1024.6,2194.0 1029.0,2186.7 1032.6,2172.2 1037.0,2157.7 1040.6,2139.5 1044.3,2121.4 1047.2,2103.2 1050.8,2088.7 1057.3,2083.2 1063.5,2076.0 1068.2,2063.2 1073.3,2052.4 1078.0,2048.0 1083.5,2049.4 1088.9,2056.0 1094.4,2063.2 1099.8,2074.1 1105.3,2085.0 1110.7,2097.8 1116.2,2110.5 1121.6,2125.0 1126.3,2137.7 1131.4,2143.2 1136.2,2132.3 1140.9,2123.2 1146.0,2125.0 1150.7,2135.9 1155.4,2143.2 1159.8,2135.9 1163.4,2117.7 1167.0,2110.5 1171.4,2121.4 1174.3,2150.4 1177.9,2183.1 1181.6,2208.5 1185.2,2221.2 1189.5,2212.2 1194.3,2197.6 1199.7,2192.2 1205.2,2190.4 1208.8,2175.8 1212.4,2157.7 1216.1,2139.5 1219.7,2128.6 1224.4,2117.7 1230.6,2110.5 1236.0,2103.2 1241.5,2095.9 1245.1,2088.7 1248.7,2066.9 1252.4,2045.1 1256.0,2023.3 1259.6,2008.8 1264.4,1994.2 1268.0,1983.3 1271.3,1974.3 1274.2,1990.6 1277.8,2016.0 1281.4,2037.8 1284.3,2050.5 1288.7,2041.5 1292.3,2030.6 1297.1,2019.7 1303.2,2023.3 1308.7,2016.0 1312.3,2001.5 1315.9,1992.4 1320.3,2001.5 1325.0,2016.0 1329.7,2023.3 1335.9,2017.8 1341.4,2012.4 1346.8,2001.5 1350.4,1976.1 1353.0,1950.7 1355.9,1921.6 1358.8,1899.8 1362.4,1878.0 1366.1,1863.5 1369.7,1845.3 1374.0,1827.2 1378.4,1809.0 1383.1,1790.8 1386.8,1774.5 1392.2,1772.0 1397.7,1774.5 1402.4,1787.2 1404.9,1812.6 1408.6,1849.0 1412.2,1881.6 1415.8,1910.7 1419.4,1936.1 1423.1,1954.3 1427.4,1968.8 1431.4,1954.3 1436.5,1947.0 1441.2,1950.7 1448.5,1957.9 1454.0,1952.5 1461.2,1947.0 1465.6,1954.3 1470.3,1968.8 1475.0,1987.0 1479.4,1994.2 1484.8,1990.6 1491.0,1990.6 1495.7,2001.5 1499.4,2012.4 1503.0,2016.0 1505.5,1972.4 1508.4,1914.3 1511.3,1885.3 1513.9,1914.3 1517.5,1950.7 1521.1,1990.6 1526.6,1994.2 1532.0,2001.5 1537.5,2008.8 1542.9,2019.7 1547.7,2030.6 1552.0,2039.6 1557.5,2032.4 1560.0,2030.6 1563.5,2030.6 1569.0,2046.9 1573.3,2026.9 1576.2,1994.2 1579.1,1967.0 1583.5,1972.4 1587.1,1997.9 1591.5,2001.5 1596.2,1988.8 1601.6,1983.3 1605.3,2008.8 1608.9,2026.9 1614.4,2016.0 1619.1,2005.1 1621.6,1979.7 1625.3,1943.4 1627.8,1905.3 1632.5,1903.4 1638.0,1899.8 1644.5,1903.4 1649.6,1914.3 1652.5,1943.4 1656.1,1965.2 1661.6,1972.4 1667.8,1977.9 1674.3,1974.3 1681.6,1967.0 1688.1,1957.9 1692.4,1936.1 1696.8,1918.0 1700.4,1928.9 1702.6,1957.9 1707.0,1983.3 1712.4,1988.8 1717.9,1990.6 1724.4,1985.2 1730.6,1979.7 1737.8,1976.1 1741.5,1961.6 1746.2,1950.7 1752.4,1947.0 1759.6,1941.6 1766.9,1939.8 1771.6,1928.9 1776.0,1914.3 1780.3,1899.8 1785.1,1885.3 1789.8,1874.4 1794.1,1868.9 1799.6,1868.9 1806.9,1872.6 1814.1,1874.4 1817.8,1896.2 1821.4,1928.9 1823.9,1950.7 1827.6,1928.9 1832.3,1918.0 1835.9,1919.8 1839.5,1943.4 1844.3,1967.0 1847.9,1943.4 1850.4,1921.6 1853.0,1901.6 1856.6,1910.7 1859.5,1928.9 1863.2,1947.0 1866.8,1921.6 1870.4,1888.9 1874.0,1867.1 1878.4,1852.6 1883.1,1847.1 1888.6,1852.6 1894.0,1858.0 1900.2,1856.2 1906.0,1841.7 1910.4,1830.8 1915.8,1830.1 1921.3,1834.4 1924.9,1852.6 1927.8,1878.0 1931.4,1899.8 1937.6,1896.2 1943.8,1890.7 1949.6,1883.5 1954.0,1896.2 1958.3,1914.3 1963.0,1932.5 1967.8,1943.4 1972.8,1956.1 1979.4,1970.6 1984.8,1957.9 1990.3,1947.0 1997.5,1937.9 2003.0,1928.9 2008.4,1921.6 2012.1,1928.9 2015.7,1947.0 2019.3,1961.6 2024.8,1950.7 2028.4,1943.4 2033.1,1950.7 2038.2,1957.9 2042.9,1947.0 2046.6,1937.9 2052.0,1934.3 2060.0,1930.7 2062.2,1935.3 2067.7,1938.9 2075.0,1929.8 2078.6,1935.3 2082.3,1953.5 2086.7,1971.7 2093.2,1968.0 2097.6,1966.2 2099.8,1997.2 2102.3,2022.7 2106.0,2042.8 2109.6,2053.7 2115.1,2044.6 2119.5,2046.4 2125.3,2059.2 2129.7,2077.4 2135.1,2102.9 2140.6,2093.8 2146.1,2082.8 2153.3,2077.4 2158.8,2079.2 2164.3,2088.3 2169.0,2093.8" fill="none" stroke="#ff6a20" stroke-width="4.8" stroke-linejoin="miter" stroke-miterlimit="3"/>
<polyline points="442.9,2609.7 487.2,2589.7 528.9,2569.7 556.2,2560.6 581.6,2557.0 596.1,2558.8 686.9,2559.5 737.8,2584.2 779.5,2527.9 824.9,2557.0 872.2,2520.7 900.0,2485.3 910.9,2470.8 920.0,2459.0" fill="none" stroke="#e62bd2" stroke-width="3.4" stroke-linejoin="miter" stroke-miterlimit="3"/>
<polyline points="920.0,2459.0 927.2,2445.3 930.9,2450.8 933.6,2487.1 935.4,2514.3 939.0,2469.0 941.8,2439.9 945.4,2412.7 947.6,2450.8 949.9,2494.4 951.8,2514.3 954.5,2490.7 957.2,2476.2 959.9,2469.0 962.6,2498.0 964.5,2518.0 967.2,2469.0 969.0,2410.8 971.7,2408.1 973.5,2443.5 976.3,2469.0 979.0,2487.1 980.8,2556.1 984.4,2556.1 986.3,2508.9 989.0,2483.5 991.7,2439.9 994.4,2447.2 998.1,2469.0 1000.8,2498.0 1003.5,2461.7 1007.1,2487.1 1009.0,2508.9 1011.7,2469.0 1013.5,2469.0 1015.3,2516.2 1017.1,2574.3 1021.7,2574.3 1023.5,2514.3 1025.3,2487.1 1028.9,2483.5 1031.7,2458.1 1033.5,2419.9 1036.2,2469.0 1038.9,2487.1 1041.6,2505.3 1043.5,2436.3 1045.3,2396.3 1048.9,2394.5 1051.6,2454.4 1055.3,2432.6 1058.0,2383.6 1062.5,2382.7 1064.3,2436.3 1067.1,2450.8 1069.8,2394.5 1072.5,2414.5 1075.2,2487.1 1078.9,2461.7 1081.6,2407.2 1085.2,2383.6 1087.9,2414.5 1090.7,2461.7 1092.5,2505.3 1094.3,2563.4 1097.0,2530.7 1099.7,2552.5 1103.4,2556.1 1107.0,2523.4 1110.6,2510.7 1114.3,2541.6 1117.0,2487.1 1119.7,2439.9 1124.3,2429.0 1128.8,2414.5 1132.4,2403.6 1135.2,2421.7 1137.9,2441.7 1140.6,2447.2 1143.3,2469.0 1147.0,2470.8 1150.6,2501.6 1153.3,2508.9 1155.1,2541.6 1156.9,2583.4 1161.5,2574.3 1165.1,2548.9 1168.7,2523.4 1172.4,2490.7 1177.8,2488.9 1181.1,2478.0 1182.9,2514.3 1184.2,2574.3 1185.5,2654.2 1186.9,2577.9 1188.7,2523.4 1190.5,2541.6 1193.3,2587.0 1196.0,2541.6 1197.8,2518.0 1200.0,2541.6 1205.4,2526.1 1210.9,2584.2 1214.5,2635.1 1220.0,2547.9 1225.4,2584.2 1229.1,2638.7 1234.5,2584.2 1240.0,2555.2 1245.4,2595.1 1250.8,2547.9 1255.2,2504.3 1258.8,2500.7 1262.5,2533.4 1265.4,2577.0 1269.0,2642.4 1272.6,2685.9 1276.3,2722.3 1280.6,2751.3 1284.3,2794.9 1286.4,2874.8 1287.9,2929.3 1289.0,2802.2 1290.8,2722.3 1293.7,2656.9 1297.3,2693.2 1301.7,2715.0 1305.3,2678.7 1309.0,2656.9 1313.3,2693.2 1318.0,2722.3 1323.5,2620.6 1327.8,2656.9 1332.6,2642.4 1338.0,2606.0 1343.5,2573.3 1348.2,2606.0 1352.5,2627.8 1356.9,2584.2 1361.6,2598.8 1366.3,2656.9 1370.7,2620.6 1374.3,2631.5 1378.0,2656.9 1381.6,2566.1 1385.2,2671.4 1389.6,2693.2 1394.3,2649.6 1399.8,2642.4 1405.2,2624.2 1407.0,2653.2 1408.8,2555.2 1414.3,2547.9 1417.9,2577.0 1423.4,2562.4 1428.8,2569.7 1432.4,2598.8 1435.1,2514.4 1438.2,2548.3 1440.0,2492.6 1443.0,2550.8 1445.4,2478.1 1449.1,2618.5 1452.1,2616.1 1453.9,2476.9 1455.7,2443.0 1457.5,2476.9 1460.0,2568.9 1461.8,2492.6 1464.8,2559.2 1467.8,2508.4 1470.8,2473.3 1472.7,2473.3 1474.5,2509.6 1475.9,2606.4 1479.9,2606.4 1481.7,2565.3 1483.6,2514.4 1487.2,2538.6 1489.6,2502.3 1492.6,2497.5 1495.7,2514.4 1497.5,2545.9 1500.5,2577.4 1504.7,2543.5 1512.6,2538.0 1513.8,2565.3 1516.9,2598.0 1520.5,2571.3 1525.3,2582.2 1529.0,2581.0 1530.8,2601.6 1532.0,2625.8 1533.2,2659.7 1535.0,2625.8 1536.2,2583.4 1541.1,2589.5 1544.7,2616.1 1547.1,2589.5 1548.6,2501.1 1550.8,2502.3 1553.2,2509.6 1556.8,2492.6 1559.2,2611.3 1561.0,2497.5 1564.7,2495.1 1565.9,2476.3 1567.1,2504.7 1569.5,2585.9 1571.9,2538.6 1573.8,2504.7 1575.6,2541.1 1577.4,2601.6 1579.8,2628.2 1583.4,2624.6" fill="none" stroke="#e62bd2" stroke-width="4.2" stroke-linejoin="miter" stroke-miterlimit="3"/>
<polyline points="1579.8,2628.2 1583.4,2624.6 1641.3,2549.7 1664.9,2569.7 1686.7,2582.4 1703.0,2589.7 1712.8,2587.9 1732.1,2551.6 1752.1,2626.0 1772.0,2613.3 1792.0,2662.3 1810.8,2592.5 1830.8,2605.2 1850.7,2597.9 1890.7,2657.8 1912.5,2592.5 1936.1,2599.7 1957.9,2590.7 1979.7,2572.5 2008.7,2572.5 2032.3,2592.5 2057.8,2552.5 2083.2,2570.7 2110.4,2558.0 2128.6,2576.1 2156.9,2555.1" fill="none" stroke="#e62bd2" stroke-width="3.4" stroke-linejoin="miter" stroke-miterlimit="3"/>
<polyline points="476.3,2493.4 528.9,2571.5 583.4,2495.3 610.7,2495.3 654.2,2504.3 708.7,2517.0 775.9,2551.6 819.5,2520.7 872.2,2518.9 900.0,2518.9 910.9,2521.6 921.8,2527.1 936.3,2534.3 947.2,2530.7 959.9,2527.1 972.6,2523.4 989.0,2519.8 1001.7,2522.5 1016.2,2529.8 1030.7,2532.5 1041.6,2537.0 1054.3,2527.1 1067.1,2516.2 1078.9,2508.0 1087.0,2518.0 1095.2,2529.8 1101.6,2525.2 1108.8,2516.2 1111.5,2534.3 1116.1,2563.4 1120.6,2550.7 1126.1,2539.8 1130.6,2521.6 1135.2,2534.3 1141.5,2528.9 1147.0,2532.5 1152.4,2521.6 1156.0,2548.9 1161.5,2567.0 1165.1,2550.7 1172.4,2541.6 1179.6,2534.3 1185.1,2499.8 1188.7,2516.2 1192.4,2552.5 1197.8,2567.0 1200.0,2559.7 1207.3,2562.4 1216.3,2591.5 1221.8,2547.9 1226.2,2537.0 1232.7,2566.1 1238.1,2547.9 1243.6,2587.9 1250.8,2566.1 1259.9,2580.6 1272.6,2606.0 1283.5,2624.2 1289.0,2656.9 1294.4,2696.8 1299.9,2660.5 1305.3,2704.1 1310.8,2729.5 1316.2,2700.5 1325.3,2685.9 1334.4,2664.1 1338.0,2700.5 1343.5,2709.5 1348.9,2698.6 1354.4,2715.0 1361.6,2760.4 1365.3,2733.2 1370.7,2711.4 1374.3,2656.9 1378.0,2635.1 1381.6,2569.7 1387.0,2598.8 1394.3,2584.2 1399.8,2555.2 1405.2,2562.4 1408.8,2580.6 1417.9,2597.0 1427.0,2593.3 1437.9,2589.7 1454.2,2586.1 1476.0,2577.0 1497.8,2566.1 1519.6,2555.2 1541.4,2544.3 1581.4,2543.6 1628.6,2545.0 1664.9,2547.9 1690.3,2551.6 1708.5,2544.3 1737.5,2529.8 1763.0,2518.9 1781.1,2518.9 1800.0,2522.5 1805.3,2525.3 1830.8,2530.7 1856.2,2531.8 1888.9,2529.6 1917.9,2527.1 1947.0,2516.2 1979.7,2506.4 2008.7,2508.9 2034.1,2510.0 2063.2,2508.9 2099.5,2502.8 2128.6,2498.0 2156.9,2494.4" fill="none" stroke="#0a3d9c" stroke-width="3.6" stroke-linejoin="miter" stroke-miterlimit="3"/>
<line x1="770.0" y1="1145.0" x2="1106.8" y2="1145.0" stroke="#0b6b2c" stroke-width="8.0"/>
<line x1="770.0" y1="1125.0" x2="770.0" y2="1165.0" stroke="#0b6b2c" stroke-width="4.5"/>
<line x1="1106.8" y1="1125.0" x2="1106.8" y2="1165.0" stroke="#0b6b2c" stroke-width="4.5"/>
<rect x="932.5" y="1137.0" width="9.0" height="16.0" fill="#0b6b2c"/>
<line x1="770.0" y1="1125.0" x2="770.0" y2="1165.0" stroke="#0b6b2c" stroke-width="8.0"/>
<line x1="1156.0" y1="1145.0" x2="1642.0" y2="1145.0" stroke="#04cb08" stroke-width="8.0"/>
<line x1="1156.0" y1="1125.0" x2="1156.0" y2="1165.0" stroke="#04cb08" stroke-width="4.5"/>
<line x1="1642.0" y1="1125.0" x2="1642.0" y2="1165.0" stroke="#04cb08" stroke-width="4.5"/>
<rect x="1392.5" y="1137.0" width="9.0" height="16.0" fill="#04cb08"/>
<line x1="735.0" y1="1186.0" x2="1184.0" y2="1186.0" stroke="#0b6b2c" stroke-width="5.0"/>
<line x1="735.0" y1="1166.0" x2="735.0" y2="1206.0" stroke="#0b6b2c" stroke-width="4.0"/>
<line x1="1184.0" y1="1166.0" x2="1184.0" y2="1206.0" stroke="#0b6b2c" stroke-width="4.0"/>
<rect x="954.0" y="1180.0" width="12.0" height="12.0" fill="#0b6b2c"/>
<line x1="1295.6" y1="1186.0" x2="1680.0" y2="1186.0" stroke="#0b6b2c" stroke-width="5.0"/>
<line x1="1295.6" y1="1166.0" x2="1295.6" y2="1206.0" stroke="#0b6b2c" stroke-width="4.0"/>
<line x1="1680.0" y1="1166.0" x2="1680.0" y2="1206.0" stroke="#0b6b2c" stroke-width="4.0"/>
<rect x="1482.0" y="1180.0" width="12.0" height="12.0" fill="#0b6b2c"/>
<line x1="816.0" y1="1222.0" x2="1199.0" y2="1222.0" stroke="#04cb08" stroke-width="8.0"/>
<line x1="816.0" y1="1202.0" x2="816.0" y2="1242.0" stroke="#04cb08" stroke-width="4.5"/>
<line x1="1199.0" y1="1202.0" x2="1199.0" y2="1242.0" stroke="#04cb08" stroke-width="4.5"/>
<rect x="1003.0" y="1214.0" width="9.0" height="16.0" fill="#04cb08"/>
<line x1="1199.0" y1="1202.0" x2="1199.0" y2="1242.0" stroke="#04cb08" stroke-width="8.0"/>
<line x1="1213.0" y1="1222.0" x2="1707.5" y2="1222.0" stroke="#04cb08" stroke-width="8.0"/>
<line x1="1213.0" y1="1202.0" x2="1213.0" y2="1242.0" stroke="#04cb08" stroke-width="4.5"/>
<line x1="1707.5" y1="1202.0" x2="1707.5" y2="1242.0" stroke="#04cb08" stroke-width="4.5"/>
<rect x="1456.5" y="1214.0" width="9.0" height="16.0" fill="#04cb08"/>
<line x1="754.7" y1="1261.0" x2="985.7" y2="1261.0" stroke="#04cb08" stroke-width="4.0"/>
<line x1="754.7" y1="1239.0" x2="754.7" y2="1283.0" stroke="#04cb08" stroke-width="5.0"/>
<line x1="985.7" y1="1239.0" x2="985.7" y2="1283.0" stroke="#04cb08" stroke-width="5.0"/>
<rect x="863.5" y="1255.0" width="12.0" height="12.0" fill="#04cb08"/>
<line x1="1436.0" y1="1261.0" x2="1752.0" y2="1261.0" stroke="#0b6b2c" stroke-width="5.0"/>
<line x1="1436.0" y1="1241.0" x2="1436.0" y2="1281.0" stroke="#0b6b2c" stroke-width="7.0"/>
<line x1="1752.0" y1="1241.0" x2="1752.0" y2="1281.0" stroke="#0b6b2c" stroke-width="7.0"/>
<rect x="1589.0" y="1255.0" width="12.0" height="12.0" fill="#0b6b2c"/>
<line x1="1772.0" y1="1261.0" x2="2099.0" y2="1261.0" stroke="#04cb08" stroke-width="4.0"/>
<line x1="1772.0" y1="1239.0" x2="1772.0" y2="1283.0" stroke="#04cb08" stroke-width="5.0"/>
<line x1="2099.0" y1="1239.0" x2="2099.0" y2="1283.0" stroke="#04cb08" stroke-width="5.0"/>
<rect x="1928.0" y="1255.0" width="12.0" height="12.0" fill="#04cb08"/>
<line x1="1978.0" y1="1222.0" x2="2238.0" y2="1222.0" stroke="#04cb08" stroke-width="8.0"/>
<line x1="1978.0" y1="1202.0" x2="1978.0" y2="1242.0" stroke="#04cb08" stroke-width="7.0"/>
<rect x="2161.2" y="1214.0" width="9.0" height="16.0" fill="#04cb08"/>
<rect x="2246.0" y="1218.0" width="16.0" height="8.0" fill="#04cb08"/>
<rect x="2272.0" y="1218.0" width="17.0" height="8.0" fill="#04cb08"/>
<line x1="373.0" y1="1775.7" x2="775.9" y2="1775.7" stroke="#d8100a" stroke-width="8.0"/>
<line x1="775.9" y1="1755.7" x2="775.9" y2="1795.7" stroke="#d8100a" stroke-width="5.0"/>
<rect x="426.0" y="1766.7" width="8.0" height="18.0" fill="#d8100a"/>
<rect x="352.4" y="1771.7" width="15.6" height="8.0" fill="#d8100a"/>
<line x1="1113.0" y1="1718.0" x2="2160.0" y2="1718.0" stroke="#d8100a" stroke-width="8.0"/>
<line x1="1113.0" y1="1698.0" x2="1113.0" y2="1738.0" stroke="#d8100a" stroke-width="5.0"/>
<line x1="2160.0" y1="1698.0" x2="2160.0" y2="1738.0" stroke="#d8100a" stroke-width="5.0"/>
<rect x="1631.0" y="1709.0" width="10.0" height="18.0" fill="#d8100a"/>
<line x1="323.4" y1="2226.5" x2="1257.0" y2="2226.5" stroke="#ff6a20" stroke-width="8.0"/>
<line x1="1257.0" y1="2206.5" x2="1257.0" y2="2246.5" stroke="#ff6a20" stroke-width="7.0"/>
<rect x="635.6" y="2217.5" width="10.0" height="18.0" fill="#ff6a20"/>
<rect x="246.0" y="2222.5" width="19.0" height="8.0" fill="#ff6a20"/>
<rect x="278.7" y="2222.5" width="28.3" height="8.0" fill="#ff6a20"/>
<line x1="1899.4" y1="2250.5" x2="2253.6" y2="2250.5" stroke="#ff6a20" stroke-width="8.0"/>
<line x1="1899.4" y1="2230.5" x2="1899.4" y2="2270.5" stroke="#ff6a20" stroke-width="7.0"/>
<rect x="2136.6" y="2241.5" width="8.0" height="18.0" fill="#ff6a20"/>
<rect x="2273.6" y="2246.5" width="31.0" height="8.0" fill="#ff6a20"/>
<rect x="2326.4" y="2246.5" width="15.3" height="8.0" fill="#ff6a20"/>
<line x1="828.8" y1="2275.0" x2="1445.5" y2="2275.0" stroke="#ff6a20" stroke-width="8.0"/>
<line x1="828.8" y1="2255.0" x2="828.8" y2="2295.0" stroke="#ff6a20" stroke-width="5.0"/>
<line x1="1445.5" y1="2255.0" x2="1445.5" y2="2295.0" stroke="#ff6a20" stroke-width="5.0"/>
<rect x="1134.0" y="2267.5" width="5.0" height="15.0" fill="#ff6a20"/>
<line x1="1445.5" y1="2255.0" x2="1445.5" y2="2295.0" stroke="#ff6a20" stroke-width="8.0"/>
<line x1="868.5" y1="2881.0" x2="1037.4" y2="2881.0" stroke="#1457b4" stroke-width="5.0"/>
<line x1="868.5" y1="2862.0" x2="868.5" y2="2900.0" stroke="#1457b4" stroke-width="5.0"/>
<line x1="1037.4" y1="2862.0" x2="1037.4" y2="2900.0" stroke="#1457b4" stroke-width="5.0"/>
<rect x="948.5" y="2876.5" width="9.0" height="9.0" fill="#1457b4"/>
<line x1="868.5" y1="2862.0" x2="868.5" y2="2901.0" stroke="#8fb4de" stroke-width="9.0"/>
<line x1="868.5" y1="2881.0" x2="1037.4" y2="2881.0" stroke="#1457b4" stroke-width="5.0"/>
<line x1="1296.0" y1="2908.0" x2="1675.0" y2="2908.0" stroke="#0a3d9c" stroke-width="4.0"/>
<line x1="1296.0" y1="2890.0" x2="1296.0" y2="2926.0" stroke="#0a3d9c" stroke-width="4.0"/>
<line x1="1675.0" y1="2890.0" x2="1675.0" y2="2926.0" stroke="#0a3d9c" stroke-width="4.0"/>
<rect x="1481.5" y="2902.0" width="5.0" height="12.0" fill="#0a3d9c"/>
<line x1="1675.0" y1="2889.0" x2="1675.0" y2="2926.0" stroke="#1f6fc0" stroke-width="10.0"/>
<line x1="1578.0" y1="2879.5" x2="2008.0" y2="2879.5" stroke="#8fb4de" stroke-width="9.0"/>
<line x1="1578.0" y1="2882.0" x2="2008.0" y2="2882.0" stroke="#0a3d9c" stroke-width="4.5"/>
<line x1="1578.0" y1="2862.0" x2="1578.0" y2="2902.0" stroke="#0a3d9c" stroke-width="5.0"/>
<line x1="2008.0" y1="2862.0" x2="2008.0" y2="2902.0" stroke="#0a3d9c" stroke-width="5.0"/>
<rect x="1789.1" y="2878.0" width="9.0" height="8.0" fill="#0a3d9c"/>
<line x1="1570.0" y1="2934.0" x2="1704.8" y2="2934.0" stroke="#2f74c4" stroke-width="4.5"/>
<line x1="1570.0" y1="2915.0" x2="1570.0" y2="2953.0" stroke="#2f74c4" stroke-width="5.0"/>
<line x1="1704.8" y1="2915.0" x2="1704.8" y2="2953.0" stroke="#2f74c4" stroke-width="5.0"/>
<rect x="1632.0" y="2929.5" width="9.0" height="9.0" fill="#2f74c4"/>
<line x1="1570.0" y1="2915.0" x2="1570.0" y2="2953.0" stroke="#0a3d9c" stroke-width="5.0"/>
<line x1="1704.8" y1="2915.0" x2="1704.8" y2="2953.0" stroke="#4a8fd4" stroke-width="6.0"/>
<line x1="1949.0" y1="2908.0" x2="2143.2" y2="2908.0" stroke="#0a3d9c" stroke-width="4.5"/>
<line x1="1949.0" y1="2889.0" x2="1949.0" y2="2927.0" stroke="#0a3d9c" stroke-width="5.0"/>
<line x1="2143.2" y1="2889.0" x2="2143.2" y2="2927.0" stroke="#0a3d9c" stroke-width="5.0"/>
<rect x="2042.0" y="2902.0" width="6.0" height="12.0" fill="#0a3d9c"/>
<line x1="1949.0" y1="2889.0" x2="1949.0" y2="2926.0" stroke="#8fb4de" stroke-width="9.0"/>
<line x1="661.5" y1="2965.0" x2="981.8" y2="2965.0" stroke="#cf34d4" stroke-width="4.0"/>
<line x1="661.5" y1="2947.0" x2="661.5" y2="2983.0" stroke="#cf34d4" stroke-width="4.5"/>
<line x1="981.8" y1="2947.0" x2="981.8" y2="2983.0" stroke="#cf34d4" stroke-width="4.5"/>
<rect x="817.6" y="2959.5" width="6.0" height="11.0" fill="#cf34d4"/>
<line x1="487.0" y1="3014.0" x2="595.0" y2="3014.0" stroke="#cf34d4" stroke-width="4.0"/>
<line x1="487.0" y1="2996.0" x2="487.0" y2="3032.0" stroke="#cf34d4" stroke-width="4.5"/>
<line x1="595.0" y1="2996.0" x2="595.0" y2="3032.0" stroke="#cf34d4" stroke-width="4.5"/>
<rect x="538.6" y="3008.5" width="6.0" height="11.0" fill="#cf34d4"/>
<line x1="714.0" y1="3014.0" x2="820.6" y2="3014.0" stroke="#cf34d4" stroke-width="4.0"/>
<line x1="714.0" y1="2996.0" x2="714.0" y2="3032.0" stroke="#cf34d4" stroke-width="4.5"/>
<line x1="820.6" y1="2996.0" x2="820.6" y2="3032.0" stroke="#cf34d4" stroke-width="4.5"/>
<rect x="764.7" y="3008.5" width="6.0" height="11.0" fill="#cf34d4"/>
<line x1="1155.0" y1="2965.0" x2="1877.5" y2="2965.0" stroke="#cf34d4" stroke-width="4.0"/>
<line x1="1155.0" y1="2947.0" x2="1155.0" y2="2983.0" stroke="#cf34d4" stroke-width="4.5"/>
<line x1="1877.5" y1="2947.0" x2="1877.5" y2="2983.0" stroke="#cf34d4" stroke-width="4.5"/>
<rect x="1512.8" y="2959.5" width="6.0" height="11.0" fill="#cf34d4"/>
<line x1="1074.5" y1="2988.0" x2="1209.6" y2="2988.0" stroke="#cf34d4" stroke-width="4.0"/>
<line x1="1074.5" y1="2970.0" x2="1074.5" y2="3006.0" stroke="#cf34d4" stroke-width="4.5"/>
<line x1="1209.6" y1="2970.0" x2="1209.6" y2="3006.0" stroke="#cf34d4" stroke-width="4.5"/>
<rect x="1150.5" y="2982.5" width="6.0" height="11.0" fill="#cf34d4"/>
<line x1="1101.8" y1="2988.0" x2="1315.3" y2="2988.0" stroke="#cf34d4" stroke-width="4.0"/>
<line x1="1101.8" y1="2970.0" x2="1101.8" y2="3006.0" stroke="#cf34d4" stroke-width="4.5"/>
<line x1="1315.3" y1="2970.0" x2="1315.3" y2="3006.0" stroke="#cf34d4" stroke-width="4.5"/>
<rect x="1192.5" y="2982.5" width="6.0" height="11.0" fill="#cf34d4"/>
<line x1="1101.8" y1="3014.0" x2="1234.0" y2="3014.0" stroke="#cf34d4" stroke-width="4.0"/>
<line x1="1101.8" y1="2996.0" x2="1101.8" y2="3032.0" stroke="#cf34d4" stroke-width="4.5"/>
<line x1="1234.0" y1="2996.0" x2="1234.0" y2="3032.0" stroke="#cf34d4" stroke-width="4.5"/>
<rect x="1165.8" y="3008.5" width="6.0" height="11.0" fill="#cf34d4"/>
<line x1="1128.0" y1="3014.0" x2="1234.0" y2="3014.0" stroke="#cf34d4" stroke-width="4.0"/>
<line x1="1128.0" y1="2996.0" x2="1128.0" y2="3032.0" stroke="#cf34d4" stroke-width="4.5"/>
<line x1="1234.0" y1="2996.0" x2="1234.0" y2="3032.0" stroke="#cf34d4" stroke-width="4.5"/>
<rect x="1180.5" y="3008.5" width="6.0" height="11.0" fill="#cf34d4"/>
<line x1="1382.3" y1="3014.0" x2="1515.8" y2="3014.0" stroke="#cf34d4" stroke-width="4.0"/>
<line x1="1382.3" y1="2996.0" x2="1382.3" y2="3032.0" stroke="#cf34d4" stroke-width="4.5"/>
<line x1="1515.8" y1="2996.0" x2="1515.8" y2="3032.0" stroke="#cf34d4" stroke-width="4.5"/>
<rect x="1445.8" y="3008.5" width="6.0" height="11.0" fill="#cf34d4"/>
<line x1="1661.8" y1="3014.0" x2="1849.0" y2="3014.0" stroke="#cf34d4" stroke-width="4.0"/>
<line x1="1661.8" y1="2996.0" x2="1661.8" y2="3032.0" stroke="#cf34d4" stroke-width="4.5"/>
<line x1="1849.0" y1="2996.0" x2="1849.0" y2="3032.0" stroke="#cf34d4" stroke-width="4.5"/>
<rect x="1752.5" y="3008.5" width="6.0" height="11.0" fill="#cf34d4"/>
<line x1="2102.5" y1="2989.6" x2="2209.3" y2="2989.6" stroke="#cf34d4" stroke-width="4.0"/>
<line x1="2102.5" y1="2971.6" x2="2102.5" y2="3007.6" stroke="#cf34d4" stroke-width="4.5"/>
<line x1="2209.3" y1="2971.6" x2="2209.3" y2="3007.6" stroke="#cf34d4" stroke-width="4.5"/>
<rect x="2153.0" y="2984.1" width="6.0" height="11.0" fill="#cf34d4"/>
<line x1="423.5" y1="3090.0" x2="2171.5" y2="3090.0" stroke="#000" stroke-width="6.0"/>
<line x1="426.3" y1="3088.0" x2="426.3" y2="3126.0" stroke="#000" stroke-width="3.6"/>
<line x1="493.3" y1="3088.0" x2="493.3" y2="3109.0" stroke="#000" stroke-width="3.2"/>
<line x1="560.3" y1="3088.0" x2="560.3" y2="3126.0" stroke="#000" stroke-width="3.6"/>
<line x1="627.3" y1="3088.0" x2="627.3" y2="3109.0" stroke="#000" stroke-width="3.2"/>
<line x1="694.3" y1="3088.0" x2="694.3" y2="3126.0" stroke="#000" stroke-width="3.6"/>
<line x1="761.3" y1="3088.0" x2="761.3" y2="3109.0" stroke="#000" stroke-width="3.2"/>
<line x1="828.3" y1="3088.0" x2="828.3" y2="3126.0" stroke="#000" stroke-width="3.6"/>
<line x1="895.3" y1="3088.0" x2="895.3" y2="3109.0" stroke="#000" stroke-width="3.2"/>
<line x1="962.3" y1="3088.0" x2="962.3" y2="3126.0" stroke="#000" stroke-width="3.6"/>
<line x1="1029.3" y1="3088.0" x2="1029.3" y2="3109.0" stroke="#000" stroke-width="3.2"/>
<line x1="1096.3" y1="3088.0" x2="1096.3" y2="3126.0" stroke="#000" stroke-width="3.6"/>
<line x1="1163.3" y1="3088.0" x2="1163.3" y2="3109.0" stroke="#000" stroke-width="3.2"/>
<line x1="1230.3" y1="3088.0" x2="1230.3" y2="3126.0" stroke="#000" stroke-width="3.6"/>
<line x1="1297.3" y1="3088.0" x2="1297.3" y2="3109.0" stroke="#000" stroke-width="3.2"/>
<line x1="1364.3" y1="3088.0" x2="1364.3" y2="3126.0" stroke="#000" stroke-width="3.6"/>
<line x1="1431.3" y1="3088.0" x2="1431.3" y2="3109.0" stroke="#000" stroke-width="3.2"/>
<line x1="1498.3" y1="3088.0" x2="1498.3" y2="3126.0" stroke="#000" stroke-width="3.6"/>
<line x1="1565.3" y1="3088.0" x2="1565.3" y2="3109.0" stroke="#000" stroke-width="3.2"/>
<line x1="1632.3" y1="3088.0" x2="1632.3" y2="3126.0" stroke="#000" stroke-width="3.6"/>
<line x1="1699.3" y1="3088.0" x2="1699.3" y2="3109.0" stroke="#000" stroke-width="3.2"/>
<line x1="1766.3" y1="3088.0" x2="1766.3" y2="3126.0" stroke="#000" stroke-width="3.6"/>
<line x1="1833.3" y1="3088.0" x2="1833.3" y2="3109.0" stroke="#000" stroke-width="3.2"/>
<line x1="1900.3" y1="3088.0" x2="1900.3" y2="3126.0" stroke="#000" stroke-width="3.6"/>
<line x1="1967.3" y1="3088.0" x2="1967.3" y2="3109.0" stroke="#000" stroke-width="3.2"/>
<line x1="2034.3" y1="3088.0" x2="2034.3" y2="3126.0" stroke="#000" stroke-width="3.6"/>
<line x1="2101.3" y1="3088.0" x2="2101.3" y2="3109.0" stroke="#000" stroke-width="3.2"/>
<line x1="2168.3" y1="3088.0" x2="2168.3" y2="3126.0" stroke="#000" stroke-width="3.6"/>
<text x="426.3" y="3199.0" font-size="53.0" fill="#000" font-family="Liberation Sans, Arial, sans-serif" text-anchor="middle" textLength="121.0" lengthAdjust="spacingAndGlyphs" >7500</text>
<text x="694.3" y="3199.0" font-size="53.0" fill="#000" font-family="Liberation Sans, Arial, sans-serif" text-anchor="middle" textLength="121.0" lengthAdjust="spacingAndGlyphs" >7700</text>
<text x="962.3" y="3199.0" font-size="53.0" fill="#000" font-family="Liberation Sans, Arial, sans-serif" text-anchor="middle" textLength="121.0" lengthAdjust="spacingAndGlyphs" >7900</text>
<text x="1230.3" y="3199.0" font-size="53.0" fill="#000" font-family="Liberation Sans, Arial, sans-serif" text-anchor="middle" textLength="121.0" lengthAdjust="spacingAndGlyphs" >8100</text>
<text x="1498.3" y="3199.0" font-size="53.0" fill="#000" font-family="Liberation Sans, Arial, sans-serif" text-anchor="middle" textLength="121.0" lengthAdjust="spacingAndGlyphs" >8300</text>
<text x="1766.3" y="3199.0" font-size="53.0" fill="#000" font-family="Liberation Sans, Arial, sans-serif" text-anchor="middle" textLength="121.0" lengthAdjust="spacingAndGlyphs" >8500</text>
<text x="2034.3" y="3199.0" font-size="53.0" fill="#000" font-family="Liberation Sans, Arial, sans-serif" text-anchor="middle" textLength="121.0" lengthAdjust="spacingAndGlyphs" >8700</text>
<text x="1295.0" y="3277.0" font-size="60.0" fill="#000" font-family="Liberation Sans, Arial, sans-serif" font-weight="bold" text-anchor="middle" textLength="352.0" lengthAdjust="spacingAndGlyphs" >Age (yr BP)</text>
<line x1="2271.7" y1="519.3" x2="2271.7" y2="1106.3" stroke="#000" stroke-width="4.6"/>
<line x1="2271.7" y1="521.6" x2="2231.7" y2="521.6" stroke="#000" stroke-width="4.0"/>
<line x1="2271.7" y1="688.3" x2="2231.7" y2="688.3" stroke="#000" stroke-width="4.0"/>
<line x1="2271.7" y1="854.2" x2="2231.7" y2="854.2" stroke="#000" stroke-width="8.0"/>
<line x1="2271.7" y1="1020.2" x2="2231.7" y2="1020.2" stroke="#000" stroke-width="4.0"/>
<line x1="2271.7" y1="605.5" x2="2251.7" y2="605.5" stroke="#000" stroke-width="4.0"/>
<line x1="2271.7" y1="771.0" x2="2251.7" y2="771.0" stroke="#000" stroke-width="4.0"/>
<line x1="2271.7" y1="937.0" x2="2251.7" y2="937.0" stroke="#000" stroke-width="4.0"/>
<line x1="2271.7" y1="1104.0" x2="2251.7" y2="1104.0" stroke="#000" stroke-width="4.0"/>
<text x="2339.0" y="539.6" font-size="54.0" fill="#000" font-family="Liberation Sans, Arial, sans-serif" text-anchor="end" >4</text>
<text x="2339.0" y="706.3" font-size="54.0" fill="#000" font-family="Liberation Sans, Arial, sans-serif" text-anchor="end" >2</text>
<text x="2339.0" y="872.2" font-size="54.0" fill="#000" font-family="Liberation Sans, Arial, sans-serif" text-anchor="end" >0</text>
<text x="2339.0" y="1038.2" font-size="54.0" fill="#000" font-family="Liberation Sans, Arial, sans-serif" text-anchor="end" >-2</text>
<line x1="313.2" y1="1243.1" x2="313.2" y2="1828.8" stroke="#000" stroke-width="4.6"/>
<line x1="313.2" y1="1245.4" x2="351.2" y2="1245.4" stroke="#000" stroke-width="4.0"/>
<line x1="313.2" y1="1439.7" x2="351.2" y2="1439.7" stroke="#000" stroke-width="8.0"/>
<line x1="313.2" y1="1634.0" x2="351.2" y2="1634.0" stroke="#000" stroke-width="4.0"/>
<line x1="313.2" y1="1826.5" x2="351.2" y2="1826.5" stroke="#000" stroke-width="4.0"/>
<line x1="313.2" y1="1344.0" x2="335.2" y2="1344.0" stroke="#000" stroke-width="4.0"/>
<line x1="313.2" y1="1536.7" x2="335.2" y2="1536.7" stroke="#000" stroke-width="4.0"/>
<line x1="313.2" y1="1728.5" x2="335.2" y2="1728.5" stroke="#000" stroke-width="4.0"/>
<text x="270.0" y="1262.4" font-size="54.0" fill="#000" font-family="Liberation Sans, Arial, sans-serif" text-anchor="end" >2</text>
<text x="270.0" y="1456.7" font-size="54.0" fill="#000" font-family="Liberation Sans, Arial, sans-serif" text-anchor="end" >0</text>
<text x="270.0" y="1651.0" font-size="54.0" fill="#000" font-family="Liberation Sans, Arial, sans-serif" text-anchor="end" >-2</text>
<text x="270.0" y="1843.5" font-size="54.0" fill="#000" font-family="Liberation Sans, Arial, sans-serif" text-anchor="end" >-4</text>
<line x1="2274.7" y1="1631.2" x2="2274.7" y2="2217.3" stroke="#000" stroke-width="4.6"/>
<line x1="2274.7" y1="1633.5" x2="2239.7" y2="1633.5" stroke="#000" stroke-width="4.0"/>
<line x1="2274.7" y1="1777.8" x2="2239.7" y2="1777.8" stroke="#000" stroke-width="4.0"/>
<line x1="2274.7" y1="1924.3" x2="2239.7" y2="1924.3" stroke="#000" stroke-width="4.0"/>
<line x1="2274.7" y1="2067.5" x2="2239.7" y2="2067.5" stroke="#000" stroke-width="4.0"/>
<line x1="2274.7" y1="2215.0" x2="2239.7" y2="2215.0" stroke="#000" stroke-width="4.0"/>
<line x1="2274.7" y1="1708.0" x2="2256.7" y2="1708.0" stroke="#000" stroke-width="4.0"/>
<line x1="2274.7" y1="1851.4" x2="2256.7" y2="1851.4" stroke="#000" stroke-width="4.0"/>
<line x1="2274.7" y1="1997.0" x2="2256.7" y2="1997.0" stroke="#000" stroke-width="8.0"/>
<line x1="2274.7" y1="2143.0" x2="2256.7" y2="2143.0" stroke="#000" stroke-width="4.0"/>
<text x="2338.0" y="1650.0" font-size="54.0" fill="#000" font-family="Liberation Sans, Arial, sans-serif" text-anchor="end" >3</text>
<text x="2338.0" y="1794.3" font-size="54.0" fill="#000" font-family="Liberation Sans, Arial, sans-serif" text-anchor="end" >2</text>
<text x="2338.0" y="1940.8" font-size="54.0" fill="#000" font-family="Liberation Sans, Arial, sans-serif" text-anchor="end" >1</text>
<text x="2338.0" y="2084.0" font-size="54.0" fill="#000" font-family="Liberation Sans, Arial, sans-serif" text-anchor="end" >0</text>
<text x="2338.0" y="2231.5" font-size="54.0" fill="#000" font-family="Liberation Sans, Arial, sans-serif" text-anchor="end" >-1</text>
<line x1="296.9" y1="2266.7" x2="296.9" y2="2852.3" stroke="#000" stroke-width="4.6"/>
<line x1="296.9" y1="2269.0" x2="334.9" y2="2269.0" stroke="#000" stroke-width="4.0"/>
<line x1="296.9" y1="2416.0" x2="334.9" y2="2416.0" stroke="#000" stroke-width="4.0"/>
<line x1="296.9" y1="2561.4" x2="334.9" y2="2561.4" stroke="#000" stroke-width="4.0"/>
<line x1="296.9" y1="2706.6" x2="334.9" y2="2706.6" stroke="#000" stroke-width="4.0"/>
<line x1="296.9" y1="2850.0" x2="334.9" y2="2850.0" stroke="#000" stroke-width="4.0"/>
<text x="270.0" y="2286.0" font-size="54.0" fill="#000" font-family="Liberation Sans, Arial, sans-serif" text-anchor="end" stroke="#000" stroke-width="1.6">4</text>
<text x="270.0" y="2433.0" font-size="54.0" fill="#000" font-family="Liberation Sans, Arial, sans-serif" text-anchor="end" stroke="#000" stroke-width="1.6">2</text>
<text x="270.0" y="2578.4" font-size="54.0" fill="#000" font-family="Liberation Sans, Arial, sans-serif" text-anchor="end" >0</text>
<text x="270.0" y="2723.6" font-size="54.0" fill="#000" font-family="Liberation Sans, Arial, sans-serif" text-anchor="end" >-2</text>
<text x="270.0" y="2867.0" font-size="54.0" fill="#000" font-family="Liberation Sans, Arial, sans-serif" text-anchor="end" >-4</text>
<line x1="302.7" y1="2342.7" x2="323.4" y2="2342.7" stroke="#000" stroke-width="4.0"/>
<line x1="302.7" y1="2489.4" x2="323.4" y2="2489.4" stroke="#000" stroke-width="4.0"/>
<line x1="302.7" y1="2633.3" x2="323.4" y2="2633.3" stroke="#000" stroke-width="4.0"/>
<line x1="302.7" y1="2778.5" x2="323.4" y2="2778.5" stroke="#000" stroke-width="8.0"/>
<text transform="translate(2424.0,810.0) rotate(-90)" font-size="60" font-family="Liberation Sans, Arial, sans-serif" font-weight="bold" text-anchor="middle" textLength="376.0" lengthAdjust="spacingAndGlyphs">z-score δ<tspan font-size="36" dy="-20">18</tspan><tspan dy="20">O</tspan></text>
<text transform="translate(180.0,1536.0) rotate(-90)" font-size="60" font-family="Liberation Sans, Arial, sans-serif" font-weight="bold" text-anchor="middle" textLength="381.0" lengthAdjust="spacingAndGlyphs">z-score δ<tspan font-size="36" dy="-20">18</tspan><tspan dy="20">O</tspan></text>
<text transform="translate(2424.0,1923.0) rotate(-90)" font-size="60" font-family="Liberation Sans, Arial, sans-serif" font-weight="bold" text-anchor="middle" textLength="377.0" lengthAdjust="spacingAndGlyphs">z-score δ<tspan font-size="36" dy="-20">18</tspan><tspan dy="20">O</tspan></text>
<text transform="translate(180.0,2560.0) rotate(-90)" font-size="60" font-family="Liberation Sans, Arial, sans-serif" font-weight="bold" text-anchor="middle" textLength="379.0" lengthAdjust="spacingAndGlyphs">z-score δ<tspan font-size="36" dy="-20">18</tspan><tspan dy="20">O</tspan></text>
<text x="658.6" y="719.0" font-size="60.0" fill="#0b6b2c" font-family="Liberation Sans, Arial, sans-serif" font-weight="bold" text-anchor="start" textLength="71.0" lengthAdjust="spacingAndGlyphs" >K1</text>
<text x="1149.7" y="670.8" font-size="60.0" fill="#04cb08" font-family="Liberation Sans, Arial, sans-serif" font-weight="bold" text-anchor="start" textLength="74.0" lengthAdjust="spacingAndGlyphs" >K3</text>
<text x="445.0" y="1386.0" font-size="64.0" fill="#d8100a" font-family="Liberation Sans, Arial, sans-serif" font-weight="bold" text-anchor="start" textLength="118.0" lengthAdjust="spacingAndGlyphs" >CR1</text>
<text x="429.0" y="1869.0" font-size="61.0" fill="#ff6a20" font-family="Liberation Sans, Arial, sans-serif" font-weight="bold" text-anchor="start" textLength="259.0" lengthAdjust="spacingAndGlyphs" >BuStack</text>
<text x="520.0" y="2437.0" font-size="51.0" fill="#1b4fa6" font-family="Liberation Sans, Arial, sans-serif" text-anchor="start" textLength="300.0" lengthAdjust="spacingAndGlyphs" >WSC-97-10-5</text>
<text x="610.0" y="2684.0" font-size="48.0" fill="#e030d8" font-family="Liberation Sans, Arial, sans-serif" text-anchor="start" textLength="115.0" lengthAdjust="spacingAndGlyphs" >YD01</text>
</svg>
</body></html>
